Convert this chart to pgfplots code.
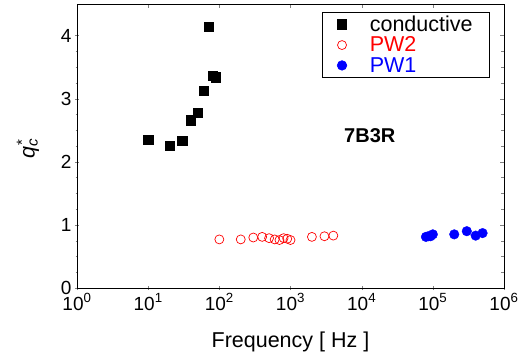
\documentclass[border=0pt]{standalone}
\usepackage{pgfplots}
\pgfplotsset{compat=1.18}
\usepackage{fontspec}
\setmainfont{Liberation Sans}
\definecolor{myred}{RGB}{255,0,0}
\definecolor{myblue}{RGB}{0,0,255}
\newcommand{\tf}{\fontsize{19bp}{22bp}\selectfont}
\newcommand{\lf}{\fontsize{21.5bp}{25bp}\selectfont}
\begin{document}
\begin{tikzpicture}
\path[use as bounding box] (-77bp,-72bp) rectangle (441bp,288bp);
\begin{axis}[
    at={(0,0)}, anchor=south west,
    scale only axis, width=427bp, height=284bp,
    xmode=log, log basis x=10,
    xmin=1, xmax=1e6, ymin=0, ymax=4.5,
    xtick={1,10,100,1000,10000,100000,1000000},
    ytick={0,1,2,3,4},
    minor y tick num=3,
    /pgf/number format/assume math mode=true,
    xtick pos=left, ytick pos=left,
    xtick align=center, ytick align=center,
    xticklabels={10\textsuperscript{0},10\textsuperscript{1},10\textsuperscript{2},10\textsuperscript{3},10\textsuperscript{4},10\textsuperscript{5},10\textsuperscript{6}},
    ticklabel style={font=\tf},
    xlabel={Frequency [ Hz ]},
    ylabel={\textit{q}\textsubscript{\textit{c}}\kern-0.3em\textsuperscript{*}},
    label style={font=\lf},
    xlabel style={at={(axis description cs:0.5,-0.19)}, anchor=center},
    ylabel style={at={(axis description cs:-0.115,0.49)}, anchor=center},
    legend style={at={(axis description cs:0.967,0.972)}, anchor=north east,
      font=\lf, draw=black, line width=0.6pt, inner xsep=15bp, inner ysep=1.5bp,
      row sep=0bp, cells={anchor=west}},
]
\addplot[only marks, mark=square*, mark size=4.6bp, black] coordinates {
(10,2.35) (20,2.26) (30,2.34) (40,2.66) (50,2.78) (60,3.13) (70,4.14) (80,3.37) (90,3.34)
};
\addlegendentry{\hspace{21bp}conductive}
\addplot[only marks, mark=o, mark size=4.5bp, myred, mark options={line width=0.7pt}] coordinates {
(100,0.77) (200,0.77) (300,0.80) (400,0.81) (500,0.79) (600,0.77) (700,0.76) (800,0.79) (900,0.78) (1000,0.76) (2000,0.81) (3000,0.82) (4000,0.83)
};
\addlegendentry{\hspace{21bp}\textcolor{myred}{PW2}}
\addplot[only marks, mark=*, mark size=4.8bp, myblue] coordinates {
(80000,0.81) (86000,0.82) (93000,0.82) (100000,0.85) (200000,0.85) (300000,0.90) (400000,0.83) (500000,0.87)
};
\addlegendentry{\hspace{21bp}\textcolor{myblue}{PW1}}
\node[font=\fontsize{20bp}{24bp}\selectfont\bfseries] at (axis cs:13000,2.41) {7B3R};
\end{axis}
\begin{axis}[
    at={(0,0)}, anchor=south west,
    scale only axis, width=427bp, height=284bp,
    xmode=log, log basis x=10,
    xmin=1, xmax=1e6, ymin=0, ymax=4.5,
    xtick={1,10,100,1000,10000,100000,1000000},
    ytick={0,1,2,3,4},
    minor y tick num=3,
    xtick pos=right, ytick pos=right,
    xtick align=inside, ytick align=inside,
    xticklabels={}, yticklabels={},
]
\end{axis}
\end{tikzpicture}
\end{document}
